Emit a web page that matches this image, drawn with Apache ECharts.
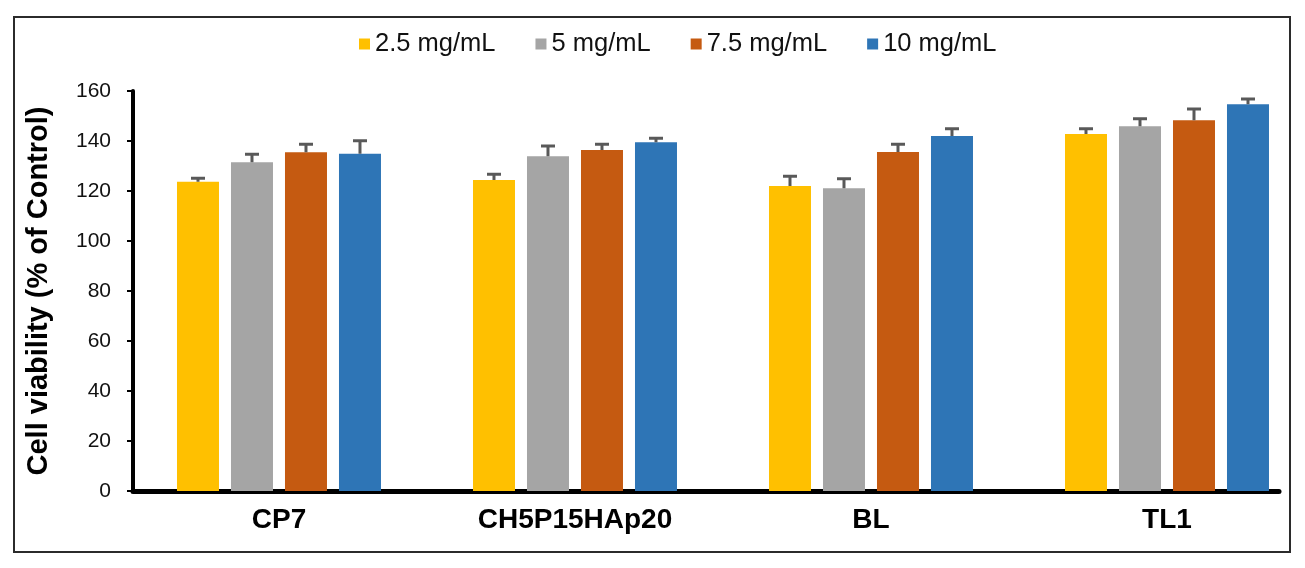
<!DOCTYPE html>
<html>
<head>
<meta charset="utf-8">
<script src="https://cdn.jsdelivr.net/npm/echarts@6/dist/echarts.min.js"></script>
<style>html,body{margin:0;padding:0;background:#fff}#c{width:1305px;height:568px}</style>
</head>
<body>
<div id="c"></div>
<script>
var categories = ['CP7', 'CH5P15HAp20', 'BL', 'TL1'];
var seriesNames = ['2.5 mg/mL', '5 mg/mL', '7.5 mg/mL', '10 mg/mL'];
var vals25 = [123.7, 124.4, 122.0, 142.8];
var vals5 = [131.5, 133.9, 121.1, 145.9];
var vals75 = [135.5, 136.4, 135.6, 148.3];
var vals10 = [134.9, 139.5, 142.0, 154.7];
var err25 = [1.4, 2.3, 3.9, 2.1];
var err5 = [3.2, 4.1, 3.8, 3.0];
var err75 = [3.2, 2.3, 3.1, 4.5];
var err10 = [5.2, 1.6, 2.9, 2.1];
var yTicks = [0, 20, 40, 60, 80, 100, 120, 140, 160];

var colors = ['#FFC000', '#A5A5A5', '#C55A11', '#2E75B6'];
var allVals = [vals25, vals5, vals75, vals10];
var allErr = [err25, err5, err75, err10];
var catIdx = categories.map(function (c, i) { return i; });
var FONT = 'Liberation Sans, Arial, sans-serif';
var BAR_W = 42, STEP = 54;

var chart = echarts.init(document.getElementById('c'), null, {renderer: 'canvas'});
var series = [];
allVals.forEach(function (v, s) {
  series.push({
    name: seriesNames[s], type: 'bar',
    barWidth: BAR_W, barGap: ((STEP - BAR_W) / BAR_W * 100).toFixed(2) + '%',
    itemStyle: {color: colors[s]},
    data: v.map(function (val, i) { return [catIdx[i], val]; }), z: 2
  });
});
allVals.forEach(function (v, s) {
  series.push({
    type: 'custom', z: 3, silent: true,
    data: v.map(function (val, i) { return [catIdx[i], val, allErr[s][i]]; }),
    renderItem: function (params, api) {
      var i = api.value(0), val = api.value(1), e = api.value(2);
      var base = api.coord([i, val]);
      var top = api.coord([i, val + e]);
      var x = base[0] + (s - 1.5) * STEP;
      var st = {stroke: '#595959', lineWidth: 3};
      return {type: 'group', children: [
        {type: 'line', shape: {x1: x, y1: base[1], x2: x, y2: top[1]}, style: st},
        {type: 'line', shape: {x1: x - 7, y1: top[1], x2: x + 7, y2: top[1]}, style: st}
      ]};
    }
  });
});

chart.setOption({
  animation: false,
  backgroundColor: '#fff',
  graphic: [{type: 'rect', shape: {x: 14, y: 17, width: 1276, height: 535},
    style: {fill: 'none', stroke: '#2b2b2b', lineWidth: 2}, z: 0}],
  legend: {
    data: seriesNames, left: 354, top: 26, icon: 'rect', itemWidth: 11, itemHeight: 11,
    itemGap: 40, textStyle: {fontFamily: FONT, fontSize: 25.5, color: '#111'}
  },
  grid: {left: 133, top: 91, width: 1146, height: 400},
  xAxis: {
    type: 'value', min: -0.4932, max: 3.3784,
    axisLine: {show: true, onZero: false, lineStyle: {color: '#000', width: 5}},
    axisTick: {show: false}, splitLine: {show: false},
    axisLabel: {customValues: catIdx, fontFamily: FONT, fontWeight: 'bold', fontSize: 28, color: '#000', margin: 15,
      formatter: function (v) { return categories[Math.round(v)] || ''; }}
  },
  yAxis: {
    type: 'value', min: 0, max: 160, interval: 20,
    name: 'Cell viability (% of Control)', nameLocation: 'middle', nameGap: 80,
    nameTextStyle: {fontFamily: FONT, fontWeight: 'bold', fontSize: 29, color: '#000'},
    axisLine: {show: true, onZero: false, lineStyle: {color: '#000', width: 4}},
    axisTick: {show: true, length: 6, lineStyle: {color: '#000', width: 2}},
    axisLabel: {fontFamily: FONT, fontSize: 21, color: '#111', margin: 22,
      formatter: function (v) { return yTicks.indexOf(v) >= 0 ? String(v) : ''; }},
    splitLine: {show: false}
  },
  series: series
});
</script>
</body>
</html>
